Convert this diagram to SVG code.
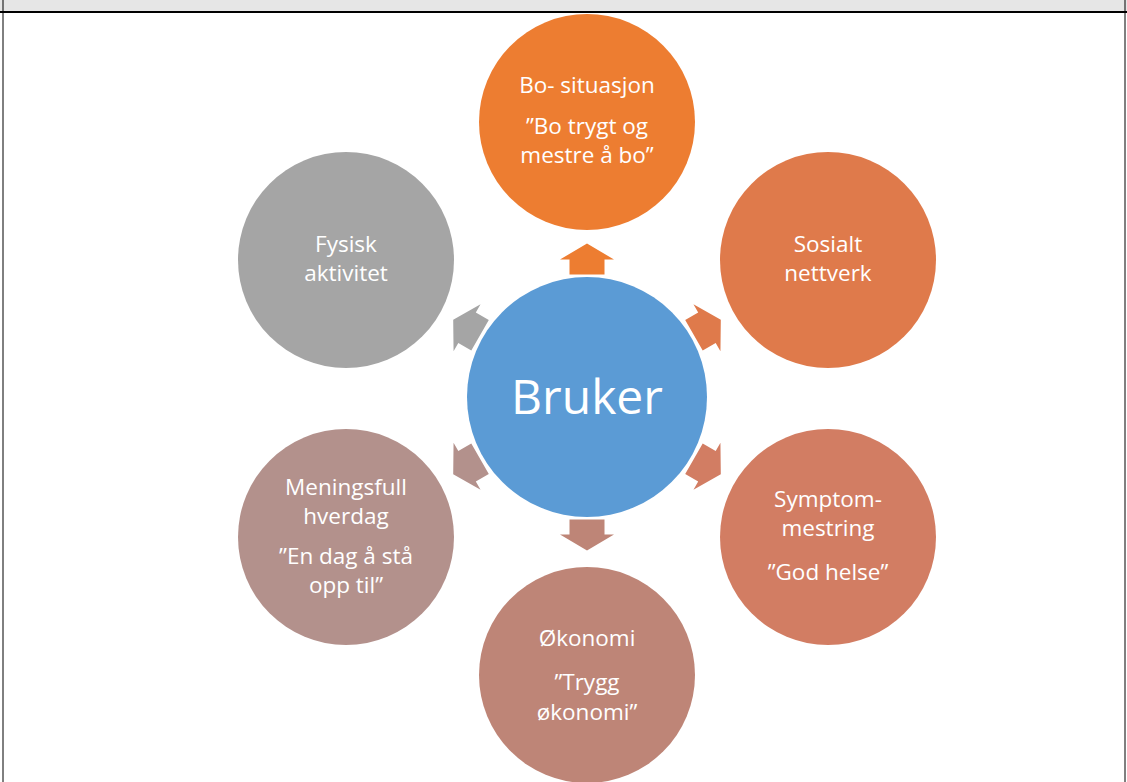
<svg xmlns="http://www.w3.org/2000/svg" width="1127" height="782" viewBox="0 0 1127 782">
<style>
.t{font-family:"Open Sans","Liberation Sans",sans-serif;font-size:22.5px;fill:#ffffff;text-anchor:middle}
.big{font-size:48px}
.frame{stroke:#000;fill:none}
</style>
<defs>
<polygon id="arr" points="0,-15.5 27,0.5 17.5,0.5 17.5,15.5 -17.5,15.5 -17.5,0.5 -27,0.5"/>
</defs>
<rect x="0" y="0" width="1127" height="11" fill="#e6e6e6"/>
<line class="frame" x1="0" y1="12" x2="1127" y2="12" stroke-width="2"/>
<line class="frame" x1="3" y1="0" x2="3" y2="782" stroke-width="1"/>
<line class="frame" x1="1125" y1="0" x2="1125" y2="782" stroke-width="1"/>
<g id="connectors">
<use href="#arr" fill="#ED7D31" transform="translate(587,397) rotate(0) translate(0,-138)"/>
<use href="#arr" fill="#DF7A4B" transform="translate(587,397) rotate(60) translate(0,-139)"/>
<use href="#arr" fill="#D27D63" transform="translate(587,397) rotate(120) translate(0,-139)"/>
<use href="#arr" fill="#BE8577" transform="translate(587,397) rotate(180) translate(0,-138)"/>
<use href="#arr" fill="#B3918C" transform="translate(587,397) rotate(240) translate(0,-139)"/>
<use href="#arr" fill="#A5A5A5" transform="translate(587,397) rotate(300) translate(0,-139)"/>
</g>
<g id="center">
<circle cx="587" cy="397" r="120" fill="#5B9BD5"/>
<text class="t big" x="587" y="414">Bruker</text>
</g>
<g id="bo">
<circle cx="587" cy="122" r="108" fill="#ED7D31"/>
<text class="t" x="587" y="93">Bo- situasjon</text>
<text class="t" x="587" y="134">”Bo trygt og</text>
<text class="t" x="587" y="163">mestre å bo”</text>
</g>
<g id="sosialt">
<circle cx="828" cy="260" r="108" fill="#DF7A4B"/>
<text class="t" x="828" y="252">Sosialt</text>
<text class="t" x="828" y="281">nettverk</text>
</g>
<g id="symptom">
<circle cx="828" cy="537" r="108" fill="#D27D63"/>
<text class="t" x="828" y="507">Symptom-</text>
<text class="t" x="828" y="536">mestring</text>
<text class="t" x="828" y="580">”God helse”</text>
</g>
<g id="okonomi">
<circle cx="587" cy="675" r="108" fill="#BE8577"/>
<text class="t" x="587" y="646">Økonomi</text>
<text class="t" x="587" y="690">”Trygg</text>
<text class="t" x="587" y="720">økonomi”</text>
</g>
<g id="meningsfull">
<circle cx="346" cy="537" r="108" fill="#B3918C"/>
<text class="t" x="346" y="495">Meningsfull</text>
<text class="t" x="346" y="524">hverdag</text>
<text class="t" x="346" y="564">”En dag å stå</text>
<text class="t" x="346" y="593">opp til”</text>
</g>
<g id="fysisk">
<circle cx="346" cy="260" r="108" fill="#A5A5A5"/>
<text class="t" x="346" y="252">Fysisk</text>
<text class="t" x="346" y="281">aktivitet</text>
</g>
</svg>
